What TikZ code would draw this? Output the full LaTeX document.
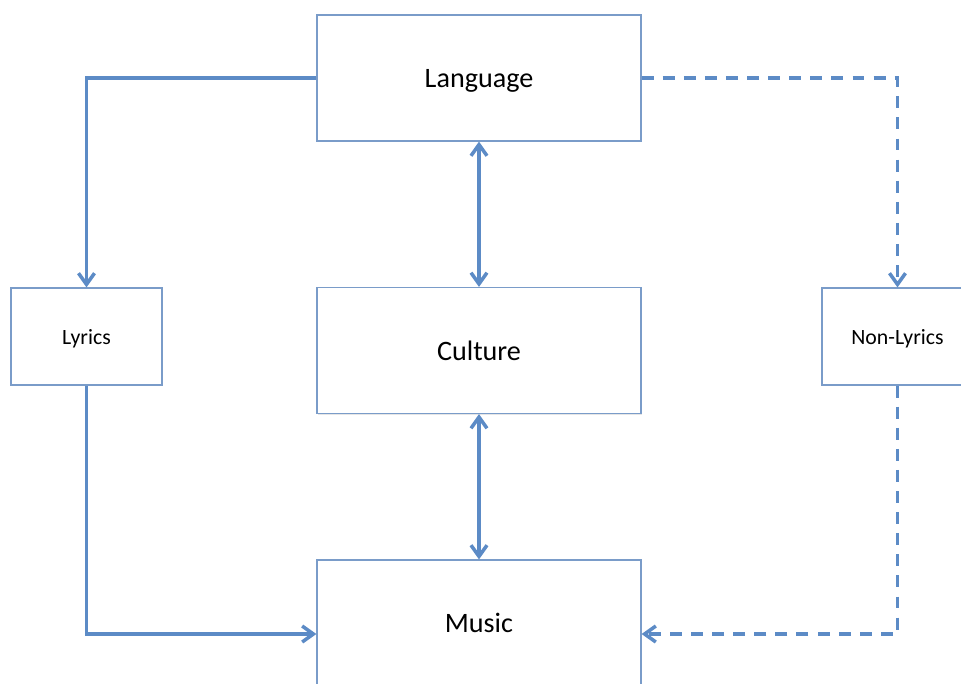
\documentclass[tikz,border=0pt]{standalone}
\usepackage{fontspec}
\setmainfont{Carlito}
\usetikzlibrary{arrows.meta, positioning, shadows}
\definecolor{boxblue}{RGB}{122,156,201}
\definecolor{linkblue}{RGB}{92,139,198}

\begin{document}
\begin{tikzpicture}[
  x=0.025cm, y=-0.025cm,
  >={Straight Barb[length=2.8mm, width=4mm]},
  box/.style={draw=boxblue, line width=0.8pt, fill=white, minimum width=8.1cm, minimum height=3.15cm, text depth=0pt, font=\fontsize{20}{24}\selectfont, drop shadow={opacity=0.2, shadow xshift=0.8pt, shadow yshift=-0.8pt}},
  smallbox/.style={box, minimum width=3.775cm, minimum height=2.425cm, font=\fontsize{15.5}{18}\selectfont},
  link/.style={->, draw=linkblue, line width=2.5pt},
  dashlink/.style={link, dash pattern=on 8.5pt off 6.5pt}
]
  % page frame
  \clip (0,0) rectangle (961,684);

  % middle column
  \node[box] (language) at (479,78) {Language};
  \node[box] (culture) at (479,350.5) {Culture};
  \node[box] (music) at (479,623) {Music};

  % side boxes
  \node[smallbox] (lyrics) at (86.5,336.5) {Lyrics};
  \node[smallbox] (nonlyrics) at (897.5,336.5) {Non-Lyrics};

  % lyrics path
  \draw[link] (language.west) -| (lyrics.north);
  \draw[link] (lyrics.south) |- ([yshift=-0.275cm]music.west);

  % non-lyrics path
  \draw[dashlink] (language.east) -| (nonlyrics.north);
  \draw[dashlink] (nonlyrics.south) |- ([yshift=-0.275cm]music.east);

  % two-way links
  \draw[link, <->] (language) -- (culture);
  \draw[link, <->] (culture) -- (music);
\end{tikzpicture}
\end{document}
